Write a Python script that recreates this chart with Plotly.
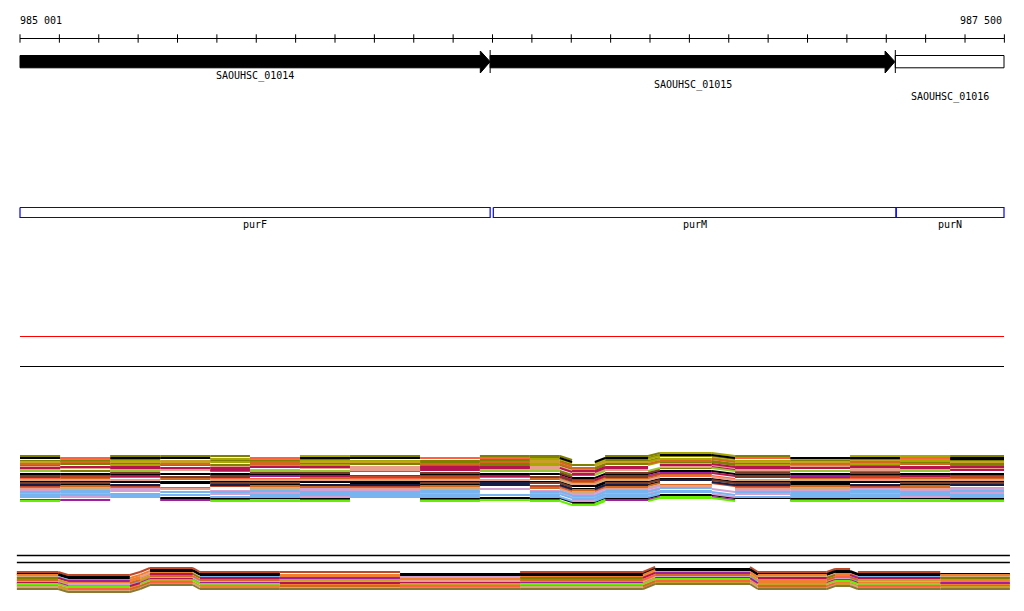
import plotly.graph_objects as go

# ---------------- data ----------------
RULER_START = 985001
RULER_END = 987500
TICK_STEP = 100
RULER_LABELS = ["985 001", "987 500"]

GENE_NAMES = ["SAOUHSC_01014", "SAOUHSC_01015", "SAOUHSC_01016"]
GENE_STARTS = [985001, 986195, 987224]
GENE_ENDS = [986195, 987223, 987500]
GENE_FILLED = [True, True, False]

FEAT_NAMES = ["purF", "purM", "purN"]
FEAT_STARTS = [985001, 986203, 987226]
FEAT_ENDS = [986195, 987226, 987500]

# middle alignment track: breakpoints, vertical deflection, rows
MID_X = [985001, 985103, 985230, 985357, 985484, 985585, 985712, 985839,
         986017, 986169, 986296, 986372, 986403, 986461, 986487, 986596,
         986626, 986758, 986817, 986957, 987109, 987236, 987363, 987500]
MID_SHIFT = [0, 0, 0, 0, 0, 0, 0, 0, 0, 0, 0, 0, 4, 4, 0, 0, -3, -3, 0, 0,
             0, 0, 0, 0]
MID_ROW_Y = [456, 458, 459, 461, 462, 464, 465, 467, 468, 470, 471, 473, 474,
             476, 477, 479, 480, 482, 483, 485, 486, 488, 489, 491, 492, 494,
             495, 497, 498, 500, 501]
MID_ROW_COLORS = [
    "O.OOO.YO.OOO..OOYYO.YYO",
    "KRKK.RKKRROK.KKOKKRKKRK",
    ".YO.YYO..OYY.YOYOO.YOYK",
    "OOYGOOYYOOGOOYOO.YYOGYO",
    "GNGGYNGGONGN.GGYYNGGNOG",
    "NOON.NOONOYNNOONNOONYNO",
    "O.YOOYY.OOYOYO.YOOYYO.O",
    "PCC.PCCPCCPPCCC.PCCPCCC",
    "CPCCC.PPCCPCPCC.CPCCPCP",
    "P.PPCP.PCPP.CPP.PCP.PPC",
    "WOW.OWWO.WWOOW.WOWOWOW.",
    "..D..DD.D..D..DD..D.D..",
    "KKKKKKK.KKKKKKKKKKKKKKK",
    "CMC.CMCCMC.CMCCMMCCMCCM",
    "DSNDD.NSSNDDSNDSN.DDSNS",
    "RN.NRRNRN.NRNRNNRR.NRNN",
    "TPP.TTPTPP.TPTTP.PTTPTP",
    "KKKKKKKKKKKKKKKKKKKKKKK",
    "DD.KDD.KDVDD.KDDVDDK.DD",
    "VKV.VKVVKV.VKVVK.VVKVKV",
    "SNS.SNNSN.SSNSNN.SSNSN.",
    "NTNN.TNNT.NNTNNTN.NTNNT",
    "PPLP.PLPPL.PPLPLP.PPLPL",
    "LBL.LBLLB.LBLLBLB.LLBLB",
    "BB.BBLBBB.BLBBBB.LBBBBL",
    "LLB.LLBBL.LBLBLLB.LBLBL",
    "BBBB.BBBBBB.BBBBBB.BBBB",
    "BLB.BBLBB.BBLBBB.LBBBLB",
    "...KKKK.KKKKKKKKKKKKKKK",
    "MM.MMEM.MEM.MEMMEM.MEEM",
    "E...EEE.E.EEEE.EEE.EEEE",
]

# bottom alignment track
BOT_X = [984993, 985098, 985123, 985280, 985306, 985331, 985440, 985458,
         985661, 985966, 986271, 986583, 986614, 986855, 986875, 987050,
         987071, 987109, 987129, 987338, 987515]
BOT_SHIFT = [0, 0, 3, 3, 0, -4, -4, 0, 0, 0, 0, 0, -5, -5, 0, 0, -3, -3, 0,
             0, 0]
BOT_ROW_Y = [572, 574, 575, 577, 578, 580, 581, 583, 584, 586, 587, 589]
BOT_ROW_COLORS = [
    "SSSSSSSSS.SS.SSSS.S.",
    "KKK..KKK.KKKKKKKKKKK",
    "AKKAAKKKAKKAKKAKKKKA",
    "TBAAPATBALAABATPAABT",
    "OCMAACOCMAOCMACOAMCO",
    "NGANGNRNGANRNGANRNGA",
    "BPLBAPBLBPAPLBAPLBPA",
    "CMACMCAMCCMACMACMCAM",
    "EWEAWGEWAGEWEAGWEEWA",
    "AARNNRAANRANRANRAARN",
    "TGTATGTATGTAGTATGTAG",
    "HHHHHHHHHHHHHHHHHHHH",
]
BOT_FRAME_X = [984993, 987515]

PALETTE = {
    "O": "#808000", "Y": "#a8a800", "G": "#c8a028", "N": "#d2691e",
    "R": "#ff6040", "C": "#b41450", "P": "#e8a08c", "K": "#000000",
    "V": "#141e46", "B": "#78b4f0", "L": "#d2a0d2", "M": "#a01ea0",
    "E": "#64f000", "W": "#96c832", "T": "#d2aa78", "D": "#783c28",
    "S": "#c04628", "H": "#8c7832", "A": "#f08030",
}

# ---------------- layout constants (pixels on y) ----------------
FONT = "DejaVu Sans Mono"
RULER_Y = 38.5
LABEL_Y = 20
GENE_TOP, GENE_BOT, HEAD_TOP, HEAD_BOT = 55.5, 67.8, 51, 73
GENE_LABEL_Y = [76, 85, 97]
HEAD_LEN = 25
FEAT_TOP, FEAT_BOT, FEAT_LABEL_Y = 207.5, 217.5, 224
RED_Y, BLACK_Y = 336.5, 366.5
FRAME_Y = [555.5, 562.5]

fig = go.Figure()

# ruler
fig.add_trace(go.Scatter(x=[RULER_START, RULER_END], y=[RULER_Y, RULER_Y], mode="lines",
                         line=dict(color="black", width=1), hoverinfo="skip"))
ticks = list(range(RULER_START, RULER_END + 2, TICK_STEP))
fig.add_trace(go.Scatter(x=ticks, y=[RULER_Y] * len(ticks), mode="markers",
                         marker=dict(symbol="line-ns", size=6, line=dict(color="black", width=1)),
                         hoverinfo="skip"))
fig.add_annotation(x=RULER_START, y=LABEL_Y, text=RULER_LABELS[0], showarrow=False,
                   xanchor="left", yanchor="middle", xshift=-2,
                   font=dict(family=FONT, size=10, color="black"))
fig.add_annotation(x=RULER_END, y=LABEL_Y, text=RULER_LABELS[1], showarrow=False,
                   xanchor="right", yanchor="middle",
                   font=dict(family=FONT, size=10, color="black"))

# genes
mid = (GENE_TOP + GENE_BOT) / 2
for i, (name, s, e, filled) in enumerate(zip(GENE_NAMES, GENE_STARTS, GENE_ENDS, GENE_FILLED)):
    if filled:
        hs = e - HEAD_LEN
        xs = [s, hs, hs, e, hs, hs, s, s]
        ys = [GENE_TOP, GENE_TOP, HEAD_TOP, mid, HEAD_BOT, GENE_BOT, GENE_BOT, GENE_TOP]
        fig.add_trace(go.Scatter(x=xs, y=ys, mode="lines", fill="toself", fillcolor="black",
                                 line=dict(color="black", width=1), hoverinfo="skip"))
    else:
        fig.add_trace(go.Scatter(x=[s, e, e, s, s], y=[GENE_TOP, GENE_TOP, GENE_BOT, GENE_BOT, GENE_TOP],
                                 mode="lines", fill="toself", fillcolor="white",
                                 line=dict(color="black", width=1), hoverinfo="skip"))
    if i > 0:
        fig.add_trace(go.Scatter(x=[s, s], y=[HEAD_TOP - 1, HEAD_BOT], mode="lines",
                                 line=dict(color="black", width=1), hoverinfo="skip"))
    fig.add_annotation(x=(s + e) / 2, y=GENE_LABEL_Y[i], text=name, showarrow=False,
                       font=dict(family=FONT, size=10, color="black"))

# features (blue boxes)
for name, s, e in zip(FEAT_NAMES, FEAT_STARTS, FEAT_ENDS):
    fig.add_trace(go.Scatter(x=[s, e, e, s, s], y=[FEAT_TOP, FEAT_TOP, FEAT_BOT, FEAT_BOT, FEAT_TOP],
                             mode="lines", line=dict(color="#0000ff", width=1.2), hoverinfo="skip"))
    fig.add_annotation(x=(s + e) / 2, y=FEAT_LABEL_Y, text=name, showarrow=False,
                       font=dict(family=FONT, size=10, color="black"))

# red and black lines
fig.add_trace(go.Scatter(x=[RULER_START, RULER_END], y=[RED_Y, RED_Y], mode="lines",
                         line=dict(color="#ff0000", width=1.2), hoverinfo="skip"))
fig.add_trace(go.Scatter(x=[RULER_START, RULER_END], y=[BLACK_Y, BLACK_Y], mode="lines",
                         line=dict(color="black", width=1.2), hoverinfo="skip"))


def add_track(bx, shift, rows_y, rows_c, width):
    groups = {}
    for y0, cs in zip(rows_y, rows_c):
        for j, ch in enumerate(cs):
            if ch == "." or j + 1 >= len(bx):
                continue
            gx, gy = groups.setdefault(ch, ([], []))
            gx += [bx[j], bx[j + 1], None]
            gy += [y0 + shift[j], y0 + shift[j + 1], None]
    for ch, (gx, gy) in groups.items():
        fig.add_trace(go.Scatter(x=gx, y=gy, mode="lines", line=dict(color=PALETTE[ch], width=width),
                                 hoverinfo="skip"))


add_track(MID_X, MID_SHIFT, MID_ROW_Y, MID_ROW_COLORS, 2)

for fy in FRAME_Y:
    fig.add_trace(go.Scatter(x=BOT_FRAME_X, y=[fy, fy], mode="lines",
                             line=dict(color="black", width=1.3), hoverinfo="skip"))
add_track(BOT_X, BOT_SHIFT, BOT_ROW_Y, BOT_ROW_COLORS, 2)

px_per_bp = 984 / (RULER_END - RULER_START)
x_lo = RULER_START - 20 / px_per_bp
x_hi = RULER_START + 1004 / px_per_bp

fig.update_layout(
    width=1024, height=611, margin=dict(l=0, r=0, t=0, b=0),
    paper_bgcolor="white", plot_bgcolor="white", showlegend=False,
    xaxis=dict(range=[x_lo, x_hi], visible=False, fixedrange=True),
    yaxis=dict(range=[611, 0], visible=False, fixedrange=True),
)

fig.write_html("out.html", config={"displayModeBar": False},
               post_script="document.body.style.margin='0';")
